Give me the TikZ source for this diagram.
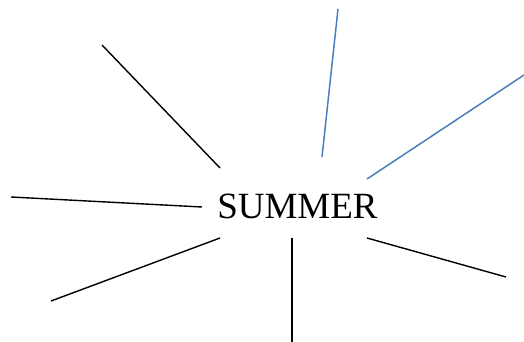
\documentclass[tikz,border=0pt]{standalone}
\usepackage{fontspec}
\setmainfont{Liberation Serif}
\usepackage{xcolor}
\usepackage{tikz}
\usetikzlibrary{positioning}
\definecolor{crayblue}{HTML}{4A7EBB}

\begin{document}
\begin{tikzpicture}[
    x=1pt, y=-1pt,
    ray/.style={draw=black, line width=1.4pt},
    bluray/.style={draw=crayblue, line width=1.5pt},
    word/.style={font=\fontsize{37}{40}\selectfont, inner sep=0pt, anchor=base}
]
\useasboundingbox (0,0) rectangle (524,342);
\node[word] (sun) at (297.5,218) {SUMMER};
% ray ends
\coordinate (a1) at (102,45);   \coordinate (a2) at (220,168);
\coordinate (b1) at (338,9);    \coordinate (b2) at (322,157);
\coordinate (c1) at (524,75);   \coordinate (c2) at (367,179);
\coordinate (d1) at (11,197);   \coordinate (d2) at (202,207);
\coordinate (e1) at (51,301);   \coordinate (e2) at (220,238);
\coordinate (f1) at (292,342);  \coordinate (f2) at (292,238);
\coordinate (g1) at (506,277);  \coordinate (g2) at (367,238);
\draw[ray] (a1) -- (a2);
\draw[bluray] (b1) -- (b2);
\draw[bluray] (c1) -- (c2);
\draw[ray] (d1) -- (d2);
\draw[ray] (e1) -- (e2);
\draw[ray] (f1) -- (f2);
\draw[ray] (g1) -- (g2);
\end{tikzpicture}
\end{document}
